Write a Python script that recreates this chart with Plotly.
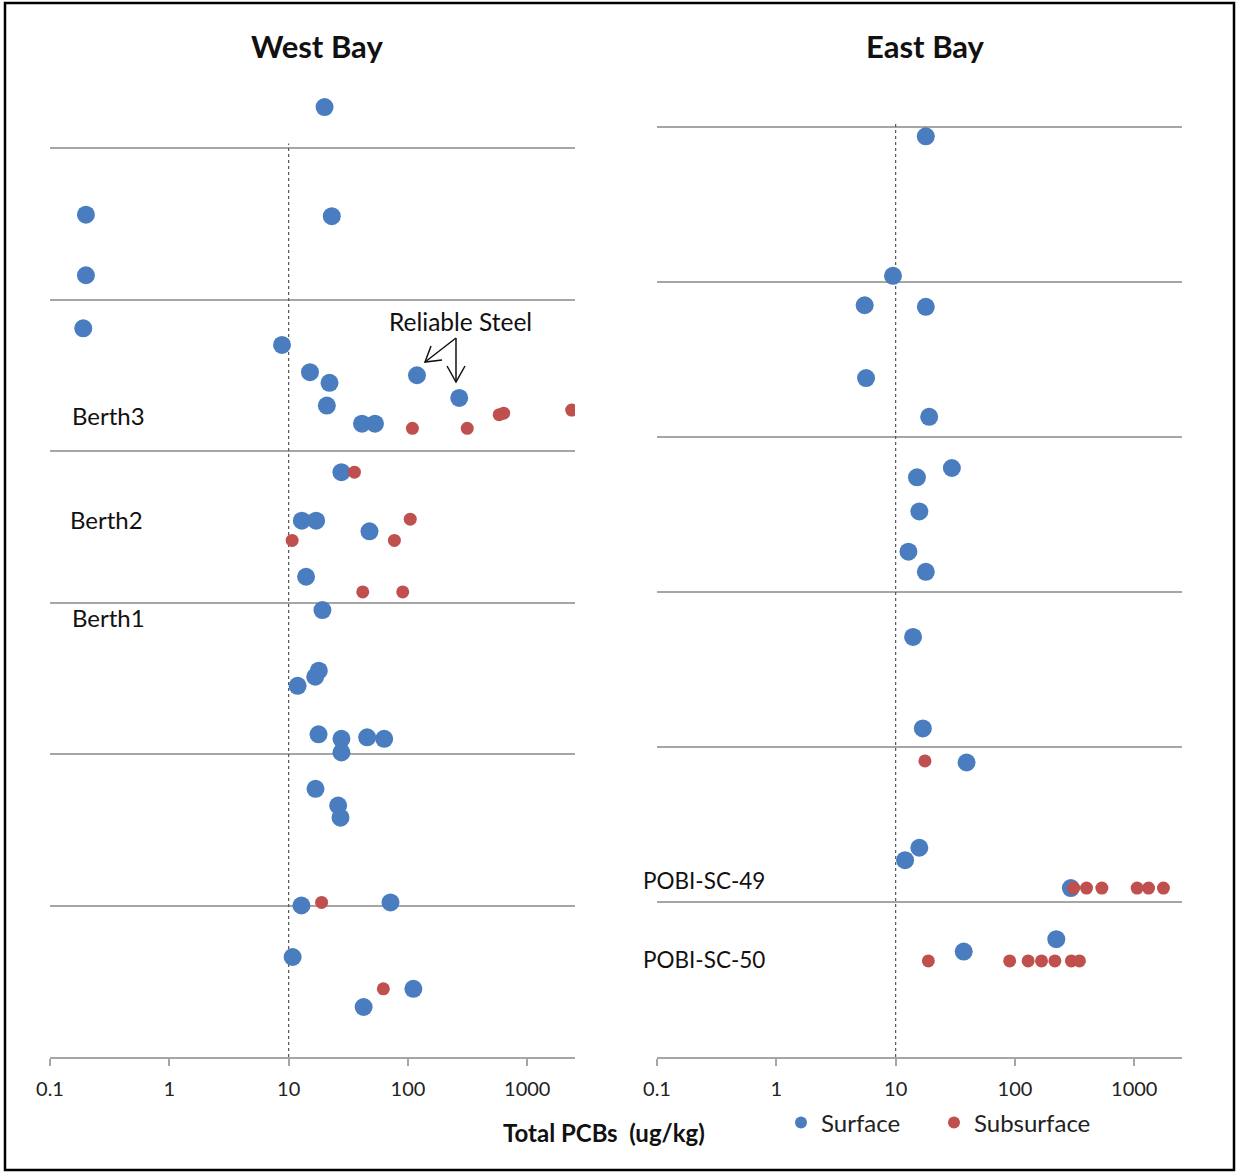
import plotly.graph_objects as go

W, H = 1236, 1172

# Total PCB concentrations (ug/kg) and vertical sample position within each station band
west_surface_pcb = [20, 0.2, 23, 0.2, 0.19, 8.8, 15.1, 22, 119, 269,
                    20.9, 41.2, 52.9, 27.7, 12.9, 17.0, 47.6, 14.0, 19.2, 17.9,
                    16.7, 11.9, 17.8, 27.7, 45.5, 63.2, 27.7, 16.8, 26.0, 27.2,
                    12.8, 71.4, 10.8, 111, 42.5]
west_surface_pos = [6.27, 5.56, 5.55, 5.16, 4.81, 4.70, 4.52, 4.45, 4.50, 4.35,
                    4.30, 4.18, 4.18, 3.86, 3.54, 3.54, 3.47, 3.17, 2.95, 2.55,
                    2.51, 2.45, 2.13, 2.10, 2.11, 2.10, 2.01, 1.77, 1.66, 1.58,
                    1.00, 1.02, 0.66, 0.45, 0.33]

west_subsurface_pcb = [109, 314, 582, 634, 2355, 35.6, 104.5, 10.7, 77, 41.8, 90.4, 18.9, 62.2]
west_subsurface_pos = [4.15, 4.15, 4.24, 4.25, 4.27, 3.86, 3.55, 3.41, 3.41, 3.07, 3.07, 1.02, 0.45]

east_surface_pcb = [17.9, 9.5, 5.5, 17.9, 5.65, 19.1, 29.6, 15.1, 15.8, 12.8,
                    17.9, 14.0, 16.9, 39.3, 15.8, 12.0, 294, 222, 37.2]
east_surface_pos = [5.94, 5.04, 4.85, 4.84, 4.38, 4.13, 3.80, 3.74, 3.52, 3.26,
                    3.13, 2.71, 2.12, 1.90, 1.35, 1.27, 1.09, 0.76, 0.68]

east_subsurface_pcb = [17.6, 310, 398, 535, 1057, 1317, 1755, 18.8, 90.3, 129, 167, 216, 297, 347]
east_subsurface_pos = [1.91, 1.09, 1.09, 1.09, 1.09, 1.09, 1.09, 0.62, 0.62, 0.62, 0.62, 0.62, 0.62, 0.62]

# Screening level drawn as a dotted reference line
screening_level = [10, 10]
screening_span = [0, 6.03]

tick_values = [0.1, 1, 10, 100, 1000]
tick_labels = ["0.1", "1", "10", "100", "1000"]
band_lines = [1, 2, 3, 4, 5, 6]

BLUE = "#4a7dbf"
RED = "#c0504d"
GRID = "#a6a6a6"
FONT = "Lato, 'Open Sans', sans-serif"

fig = go.Figure()

for xa, ya, xs, ys, xr, yr, show in [
    ("x", "y", west_surface_pcb, west_surface_pos, west_subsurface_pcb, west_subsurface_pos, True),
    ("x2", "y2", east_surface_pcb, east_surface_pos, east_subsurface_pcb, east_subsurface_pos, False),
]:
    fig.add_trace(go.Scatter(x=screening_level, y=screening_span, mode="lines",
                             line=dict(color="#555555", width=1.2, dash="dot"),
                             xaxis=xa, yaxis=ya, showlegend=False, hoverinfo="skip"))
    fig.add_trace(go.Scatter(x=xs, y=ys, mode="markers", name="Surface",
                             marker=dict(color=BLUE, size=18, line=dict(width=0)),
                             xaxis=xa, yaxis=ya, showlegend=show, legendgroup="s",
                             legendwidth=108))
    fig.add_trace(go.Scatter(x=xr, y=yr, mode="markers", name="Subsurface",
                             marker=dict(color=RED, size=13, line=dict(width=0)),
                             xaxis=xa, yaxis=ya, showlegend=show, legendgroup="b"))

y_bottom = 1 - 1057 / H
y_top = 1 - 72.25 / H

xaxis_common = dict(type="log", range=[-1, 3.4], tickvals=tick_values, ticktext=tick_labels,
                    showgrid=False, zeroline=False, showline=True, linecolor=GRID, linewidth=1.5,
                    ticks="outside", ticklen=7, tickcolor=GRID, tickwidth=1.5,
                    ticklabelstandoff=6, automargin=False,
                    tickfont=dict(family=FONT, size=20, color="#222222"))
yaxis_common = dict(tickvals=band_lines, showgrid=True, gridcolor=GRID, gridwidth=1.5,
                    showticklabels=False, zeroline=False, showline=False, ticks="",
                    automargin=False, domain=[y_bottom, y_top])

fig.update_layout(
    width=W, height=H,
    margin=dict(l=0, r=0, t=0, b=0, autoexpand=False),
    paper_bgcolor="white", plot_bgcolor="white",
    font=dict(family=FONT, color="#111111"),
    xaxis=dict(domain=[50 / W, 575 / W], anchor="y", **xaxis_common),
    xaxis2=dict(domain=[657 / W, 1182 / W], anchor="y2", **xaxis_common),
    yaxis=dict(range=[0, 6.5], anchor="x", **yaxis_common),
    yaxis2=dict(range=[0, 984.75 / 155], anchor="x2", **yaxis_common),
    showlegend=True,
    legend=dict(orientation="h", x=781 / W, y=1 - 1123 / H, xanchor="left", yanchor="middle",
                font=dict(family=FONT, size=24, color="#222222"),
                bgcolor="rgba(0,0,0,0)", itemwidth=30, itemsizing="constant",
                tracegroupgap=0),
)


def px_x(px):
    return px / W


def px_y(py):
    return 1 - py / H


def label(text, px, py, size=24, bold=False, anchor="left"):
    fig.add_annotation(text=f"<b>{text}</b>" if bold else text,
                       x=px_x(px), y=px_y(py), xref="paper", yref="paper",
                       xanchor=anchor, yanchor="middle", showarrow=False,
                       font=dict(family=FONT, size=size, color="#111111"))


label("West Bay", 317, 46, size=31, bold=True, anchor="center")
label("East Bay", 925, 46, size=31, bold=True, anchor="center")
label("Berth3", 70, 415)
label("Berth2", 68, 519)
label("Berth1", 70, 617)
label("POBI-SC-49", 641, 880, size=22.5)
label("POBI-SC-50", 641, 959, size=22.5)
label("Reliable Steel", 460, 321, size=24.5, anchor="center")
label("Total PCBs&nbsp;&nbsp;(ug/kg)", 604, 1132, size=24, bold=True, anchor="center")

# Callout arrows pointing to the Reliable Steel samples (shaft plus open head)
callout_paths = [
    [(456, 338), (425, 362)],
    [(442, 360), (425, 362), (431, 346)],
    [(456, 338), (456, 382)],
    [(447, 366), (456, 382), (465, 366)],
]
for pts in callout_paths:
    path = "M " + " L ".join(f"{px_x(a):.5f},{px_y(b):.5f}" for a, b in pts)
    fig.add_shape(type="path", path=path, xref="paper", yref="paper",
                  line=dict(color="#111111", width=1.5))

# Outer frame
fig.add_shape(type="rect", xref="paper", yref="paper",
              x0=px_x(5), x1=px_x(1234), y0=px_y(1170), y1=px_y(3),
              line=dict(color="black", width=2.5), fillcolor="rgba(0,0,0,0)")

fig.write_html("out.html")
